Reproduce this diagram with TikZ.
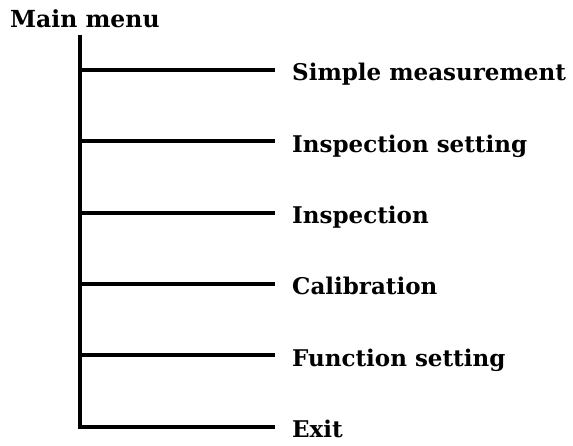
\documentclass[tikz,border=0pt]{standalone}
\usepackage{fontspec}
\setmainfont{DejaVu Serif}
\begin{document}
\begin{tikzpicture}[x=1pt,y=-1pt,
  item/.style={anchor=base west,inner sep=0pt,font=\fontsize{23}{26}\selectfont\bfseries},
  title/.style={anchor=base west,inner sep=0pt,font=\fontsize{23.5}{27}\selectfont\bfseries},
  branch/.style={line width=4pt}]
\useasboundingbox (0,0) rectangle (573,446);
\node[title] (root) at (10,28) {Main menu};
\coordinate (top) at (80,35);
% menu entries: name / y of the branch line / label
\foreach \name/\y/\txt in {s1/70/Simple measurement, s2/141.3/Inspection setting, s3/212.7/Inspection, s4/284/Calibration, s5/355.3/Function setting}{
  \node[item] (\name) at (292,\y+11) {\txt};
  \coordinate (\name j) at (80,\y);
  \coordinate (\name e) at (275,\y);
  \draw[branch] (\name j) -- (\name e);
}
\node[item] (s6) at (292,437.7) {Exit};
\coordinate (corner) at (80,426.7);
\coordinate (s6e) at (275,426.7);
\draw[branch] (top) -- (corner) -- (s6e);
\end{tikzpicture}
\end{document}
